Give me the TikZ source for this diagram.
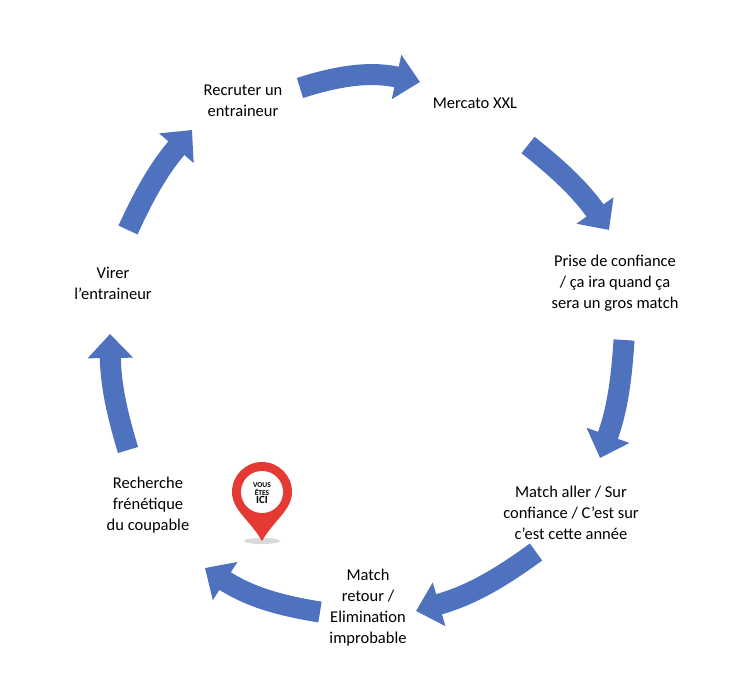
\documentclass[tikz,border=0pt]{standalone}
\usepackage{fontspec}
\setmainfont{Carlito}
\usetikzlibrary{arrows.meta}
\definecolor{ablue}{HTML}{4F72BE}
\definecolor{pinred}{HTML}{E53A33}
\begin{document}
\begin{tikzpicture}[x=1pt,y=-1pt,
  lbl/.style={align=center,font=\fontsize{16.5}{21}\selectfont},
  cyc/.style={ablue,line width=21pt,-{Triangle[width=44pt,length=24pt]}}]
\useasboundingbox (0,0) rectangle (744,690);
\node[lbl] (a) at (243,101) {Recruter un\\entraineur};
\node[lbl] (b) at (475,103) {Mercato XXL};
\node[lbl] (c) at (615,283) {Prise de confiance\\/ ça ira quand ça\\sera un gros match};
\node[lbl] (d) at (571,513) {Match aller / Sur\\confiance / C’est sur\\c’est cette année};
\node[lbl] (e) at (368,608) {Match\\retour /\\Elimination\\improbable};
\node[lbl] (f) at (148,505) {Recherche\\frénétique\\du coupable};
\node[lbl] (g) at (113,283) {Virer\\l{\char"0027}entraineur};
\coordinate (a1) at (300,88); \coordinate (a2) at (420,82);
\coordinate (b1) at (528,145); \coordinate (b2) at (609,230);
\coordinate (c1) at (624,340); \coordinate (c2) at (600,458);
\coordinate (d1) at (536,552); \coordinate (d2) at (416,611);
\coordinate (e1) at (320,612); \coordinate (e2) at (205,568);
\coordinate (f1) at (128,450); \coordinate (f2) at (110,334);
\coordinate (g1) at (128,230); \coordinate (g2) at (192,130);
\draw[cyc] (a1) to[bend left=15] (a2);
\draw[cyc] (b1) to[bend left=8] (b2);
\draw[cyc] (c1) to[bend left=8] (c2);
\draw[cyc] (d1) to[bend left=10] (d2);
\draw[cyc] (e1) to[bend left=12] (e2);
\draw[cyc] (f1) to[bend left=8] (f2);
\draw[cyc] (g1) to[bend left=8] (g2);
% pin
\fill[gray!30] (262,541) ellipse (18 and 3);
\fill[pinred] (262,541) .. controls (250,520) and (232,510) .. (232,492)
  arc[start angle=180,end angle=360,radius=30] .. controls (292,510) and (274,520) .. (262,541) -- cycle;
\fill[white] (262,492) circle (21);
\node[font=\bfseries\fontsize{7.5}{8}\selectfont,align=center,inner sep=0] (pin) at (262,493) {VOUS\\ÊTES\\{\fontsize{11}{11}\selectfont ICI}};
\end{tikzpicture}
\end{document}
